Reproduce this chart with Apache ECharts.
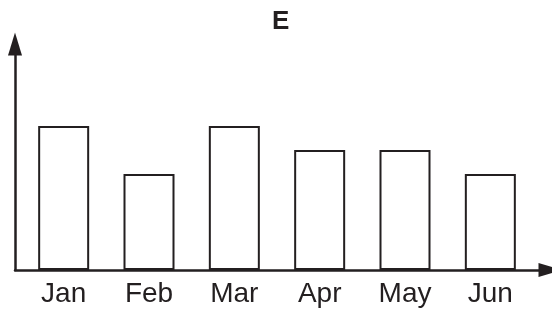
<!DOCTYPE html>
<html lang="en">
<head>
    <meta charset="UTF-8">
    <title>E</title>
    <script src="https://cdn.jsdelivr.net/npm/echarts@6/dist/echarts.min.js"></script>
    <style>
        body, html {
            margin: 0;
            padding: 0;
            width: 100%;
            height: 100%;
            overflow: hidden;
            background-color: #fff;
        }
        #container {
            width: 552px;
            height: 311px;
        }
    </style>
</head>
<body>
    <div id="container"></div>
    <script>
        var months = ['Jan', 'Feb', 'Mar', 'Apr', 'May', 'Jun'];
        var values = [6, 4, 6, 5, 5, 4];
        var ink = '#231f20';

        var option = {
            backgroundColor: '#fff',
            animation: false,
            title: {
                text: 'E',
                left: 267,
                top: 4,
                textStyle: { fontFamily: 'Liberation Sans', fontSize: 26, fontWeight: 'bold', color: ink }
            },
            grid: [
                // bars and month labels
                { left: 21, right: 19, top: 30, bottom: 41 },
                // only the two arrowed axis lines
                { left: 15, right: 2, top: 44, bottom: 41 }
            ],
            xAxis: [
                {
                    gridIndex: 0,
                    type: 'category',
                    data: months,
                    axisLine: { show: false },
                    axisTick: { show: false },
                    axisLabel: { fontFamily: 'Liberation Sans', fontSize: 28, color: ink, margin: 10 }
                },
                {
                    gridIndex: 1,
                    type: 'value',
                    axisLine: { show: true, lineStyle: { color: ink, width: 2.5 }, symbol: ['none', 'triangle'], symbolSize: [14, 23] },
                    axisTick: { show: false },
                    axisLabel: { show: false },
                    splitLine: { show: false }
                }
            ],
            yAxis: [
                {
                    gridIndex: 0,
                    type: 'value',
                    min: 0,
                    max: 10,
                    axisLine: { show: false },
                    axisTick: { show: false },
                    axisLabel: { show: false },
                    splitLine: { show: false }
                },
                {
                    gridIndex: 1,
                    type: 'value',
                    axisLine: { show: true, lineStyle: { color: ink, width: 2.5 }, symbol: ['none', 'triangle'], symbolSize: [14, 23] },
                    axisTick: { show: false },
                    axisLabel: { show: false },
                    splitLine: { show: false }
                }
            ],
            series: [{
                type: 'bar',
                xAxisIndex: 0,
                yAxisIndex: 0,
                data: values,
                barWidth: 51,
                itemStyle: { color: '#fff', borderColor: ink, borderWidth: 2 }
            }]
        };

        var chart = echarts.init(document.getElementById('container'));
        chart.setOption(option);
    </script>
</body>
</html>
